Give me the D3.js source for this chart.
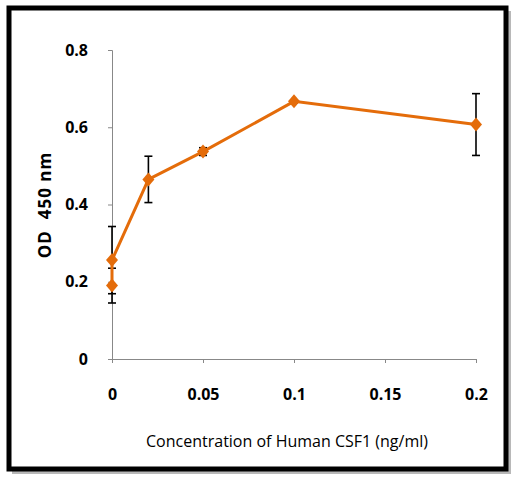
<!DOCTYPE html><html><head><script src="https://cdn.jsdelivr.net/npm/d3@7"></script>
<style>body{margin:0;background:#fff}</style></head><body><svg width="532" height="482"></svg>
<script>
const xVals=[0,0,0.02,0.05,0.1,0.2];
const yVals=[0.19,0.256,0.465,0.537,0.667,0.607];
const errs=[0.045,0.087,0.06,0.01,0.004,0.08];
const xTicks=[0,0.05,0.1,0.15,0.2], xTickLabels=["0","0.05","0.1","0.15","0.2"];
const yTicks=[0,0.2,0.4,0.6,0.8], yTickLabels=["0","0.2","0.4","0.6","0.8"];
const svg=d3.select("svg");
svg.append("rect").attr("x",12).attr("y",11).attr("width",499).attr("height",463).attr("fill","#888").attr("opacity",0.6);
svg.append("rect").attr("x",9).attr("y",8).attr("width",497).attr("height",461).attr("fill","#fff").attr("stroke","#000").attr("stroke-width",5);
const x=d3.scaleLinear().domain([0,0.2]).range([112,476]);
const y=d3.scaleLinear().domain([0,0.8]).range([359,50]);
const font="'Open Sans','Liberation Sans',Arial,sans-serif";
svg.append("g").attr("transform","translate(112,0)").call(d3.axisLeft(y).tickValues(yTicks).tickFormat((d,i)=>yTickLabels[i]).tickSize(4).tickPadding(20))
 .call(g=>{g.select(".domain").attr("stroke","#888");g.selectAll("line").attr("stroke","#888");g.selectAll("text").attr("font-family",font).attr("font-size",16).attr("font-weight","bold").attr("fill","#000");});
svg.append("g").attr("transform","translate(0,359)").call(d3.axisBottom(x).tickValues(xTicks).tickFormat((d,i)=>xTickLabels[i]).tickSize(4).tickPadding(26))
 .call(g=>{g.select(".domain").attr("stroke","#888");g.selectAll("line").attr("stroke","#888");g.selectAll("text").attr("font-family",font).attr("font-size",16).attr("font-weight","bold").attr("fill","#000");});
const data=xVals.map((v,i)=>({x:v,y:yVals[i],e:errs[i]}));
const eb=svg.append("g").attr("stroke","#000").attr("stroke-width",1.6);
data.forEach(d=>{const cx=x(d.x);
 eb.append("line").attr("x1",cx).attr("x2",cx).attr("y1",y(d.y-d.e)).attr("y2",y(d.y+d.e));
 [d.y-d.e,d.y+d.e].forEach(v=>eb.append("line").attr("x1",cx-4).attr("x2",cx+4).attr("y1",y(v)).attr("y2",y(v)));});
svg.append("path").datum(data).attr("fill","none").attr("stroke","#E46C0A").attr("stroke-width",3)
 .attr("d",d3.line().x(d=>x(d.x)).y(d=>y(d.y)));
svg.selectAll(".m").data(data).enter().append("path").attr("fill","#E46C0A")
 .attr("transform",d=>`translate(${x(d.x)},${y(d.y)})`).attr("d","M0,-7L6,0L0,7L-6,0Z");
svg.append("text").attr("x",287).attr("y",447).attr("text-anchor","middle").attr("font-family",font).attr("font-size",16).text("Concentration of Human CSF1 (ng/ml)");
svg.append("text").attr("transform","translate(51,205) rotate(-90)").attr("text-anchor","middle").attr("font-family",font).attr("font-size",17).attr("font-weight","bold").attr("letter-spacing",1).attr("xml:space","preserve").text("OD  450 nm");
</script></body></html>
